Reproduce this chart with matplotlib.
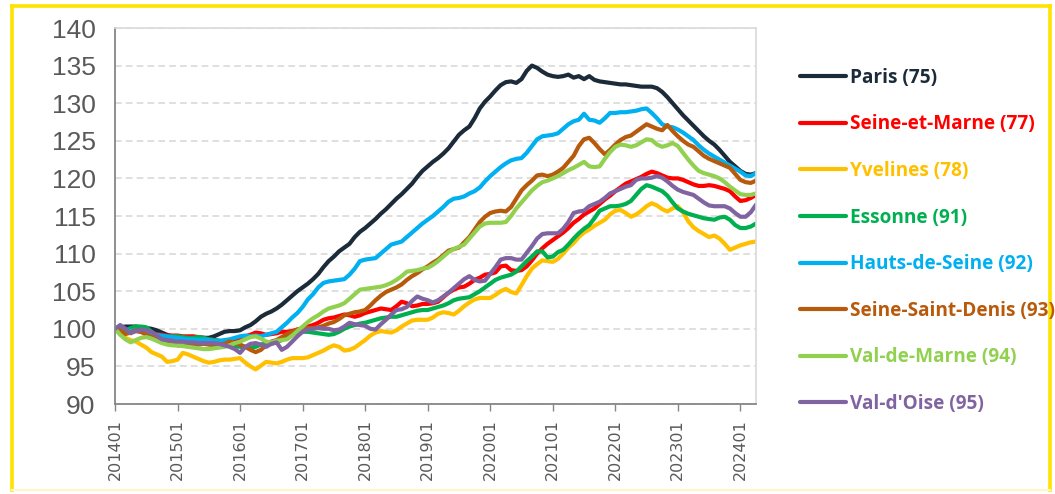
import matplotlib
matplotlib.use("Agg")
import matplotlib.pyplot as plt
from matplotlib.lines import Line2D

# ---------------- data ----------------
years = list(range(2014, 2025))
months = [f"{y}{m:02d}" for y in years for m in range(1, 13)][:124]  # 201401 .. 202404
tick_labels = [f"{y}01" for y in range(2014, 2025)]

names = ["Paris (75)", "Seine-et-Marne (77)", "Yvelines (78)", "Essonne (91)",
         "Hauts-de-Seine (92)", "Seine-Saint-Denis (93)", "Val-de-Marne (94)", "Val-d'Oise (95)"]
colors = ["#1C2B3A", "#FF0000", "#FFC000", "#00B050", "#00B0F0", "#B85A0C", "#92D050", "#8064A2"]

paris = [
    100.0, 100.2, 100.3, 100.3, 100.3, 100.2, 100.1, 100.0, 99.8, 99.5, 99.2, 99.0,
    98.9, 98.8, 98.8, 98.7, 98.8, 98.8, 98.8, 99.0, 99.3, 99.6, 99.7, 99.7,
    99.8, 100.2, 100.5, 101.0, 101.6, 102.0, 102.3, 102.7, 103.2, 103.8, 104.4, 105.0,
    105.5, 106.0, 106.6, 107.3, 108.2, 109.0, 109.6, 110.3, 110.8, 111.3, 112.2, 112.9,
    113.4, 114.0, 114.6, 115.3, 115.9, 116.6, 117.3, 117.9, 118.6, 119.3, 120.2, 121.0,
    121.6, 122.2, 122.7, 123.3, 124.0, 124.9, 125.8, 126.4, 126.9, 128.0, 129.3, 130.2,
    130.9, 131.7, 132.4, 132.8, 132.9, 132.7, 133.2, 134.3, 135.0, 134.7, 134.2, 133.8,
    133.6, 133.5, 133.6, 133.8, 133.4, 133.6, 133.2, 133.6, 133.1, 132.9, 132.8, 132.7,
    132.6, 132.5, 132.5, 132.4, 132.3, 132.2, 132.2, 132.2, 132.0, 131.5, 130.8, 130.0,
    129.2, 128.4, 127.7, 127.0, 126.3, 125.6, 125.0, 124.5, 123.8, 123.0, 122.2, 121.6,
    121.0, 120.6, 120.5, 120.7,
]
seine_et_marne = [
    100.0, 100.2, 99.9, 99.8, 99.7, 99.6, 99.5, 99.4, 99.3, 99.2, 99.1, 99.1,
    99.1, 99.0, 99.0, 99.0, 98.9, 98.8, 98.6, 98.5, 98.4, 98.3, 98.4, 98.6,
    98.8, 99.0, 99.2, 99.5, 99.4, 99.2, 99.3, 99.4, 99.6, 99.6, 99.7, 99.9,
    100.1, 100.3, 100.5, 100.8, 101.2, 101.4, 101.5, 101.7, 101.9, 101.8, 101.6, 101.8,
    102.1, 102.3, 102.5, 102.7, 102.6, 102.5, 103.0, 103.6, 103.4, 103.0, 103.1, 103.3,
    103.3, 103.4, 103.6, 104.2, 104.8, 105.2, 105.5, 105.6, 106.0, 106.5, 106.8, 107.2,
    107.3, 107.5, 108.3, 108.4, 107.8, 107.7, 107.8, 108.3, 109.1, 110.0, 110.7, 111.3,
    111.8, 112.3, 112.8, 113.4, 114.1, 114.6, 115.2, 115.6, 116.0, 116.6, 117.2, 117.7,
    118.3, 118.8, 119.3, 119.6, 119.9, 120.2, 120.6, 120.9, 120.7, 120.4, 120.1, 120.0,
    120.0, 119.8, 119.5, 119.2, 119.0, 119.0, 119.1, 119.0, 118.8, 118.6, 118.3, 117.6,
    117.0, 117.1, 117.4, 117.8,
]
yvelines = [
    100.0, 99.4, 98.8, 98.5, 98.3, 97.9, 97.5, 96.9, 96.6, 96.3, 95.6, 95.7,
    95.9, 96.8, 96.6, 96.3, 96.0, 95.7, 95.5, 95.6, 95.8, 95.9, 95.9, 96.0,
    96.1, 95.5, 95.0, 94.6, 95.1, 95.6, 95.5, 95.4, 95.6, 95.9, 96.1, 96.1,
    96.1, 96.2, 96.5, 96.8, 97.1, 97.5, 97.8, 97.6, 97.1, 97.2, 97.5, 98.0,
    98.5, 99.1, 99.5, 99.7, 99.6, 99.5, 99.8, 100.3, 100.7, 101.1, 101.2, 101.2,
    101.2, 101.5, 102.0, 102.2, 102.1, 101.9, 102.4, 103.0, 103.5, 103.9, 104.1, 104.1,
    104.1, 104.5, 105.0, 105.3, 104.9, 104.7, 105.8, 107.0, 108.0, 108.6, 109.1, 109.0,
    108.9, 109.3, 110.0, 110.8, 111.4, 112.2, 112.8, 113.2, 113.7, 114.1, 114.5, 115.2,
    115.7, 115.8, 115.4, 114.9, 115.2, 115.7, 116.3, 116.7, 116.4, 115.9, 115.6, 116.0,
    116.3, 115.5, 114.3, 113.5, 113.0, 112.6, 112.2, 112.4, 112.0, 111.3, 110.5, 110.8,
    111.1, 111.3, 111.5, 111.6,
]
essonne = [
    100.0, 99.8, 99.8, 100.1, 100.3, 100.3, 100.2, 99.6, 99.1, 98.9, 98.9, 99.0,
    99.0, 98.9, 98.8, 98.8, 98.9, 98.8, 98.6, 98.5, 98.4, 98.2, 97.9, 97.7,
    97.6, 97.6, 97.5, 97.6, 97.9, 98.1, 98.0, 98.2, 98.5, 99.0, 99.3, 99.5,
    99.6, 99.6, 99.5, 99.4, 99.3, 99.2, 99.3, 99.6, 100.0, 100.3, 100.5, 100.7,
    100.8, 101.0, 101.2, 101.4, 101.5, 101.6, 101.6, 101.8, 102.0, 102.2, 102.4, 102.5,
    102.5, 102.7, 102.9, 103.1, 103.4, 103.8, 104.0, 104.1, 104.2, 104.6, 105.0, 105.5,
    106.0, 106.5, 106.8, 107.0, 107.2, 107.6, 108.3, 109.0, 109.6, 110.3, 110.3, 109.5,
    109.6, 110.2, 110.5, 111.2, 112.0, 112.7, 113.3, 113.8, 114.7, 115.7, 116.0, 116.3,
    116.3, 116.4, 116.6, 117.0, 117.8, 118.6, 119.1, 118.9, 118.6, 118.3, 117.7, 116.8,
    116.0, 115.6, 115.3, 115.1, 114.9, 114.7, 114.6, 114.5, 114.8, 114.9, 114.5, 113.8,
    113.4, 113.4, 113.6, 114.0,
]
hauts_de_seine = [
    100.0, 100.3, 99.8, 99.7, 99.8, 99.6, 99.4, 99.3, 99.2, 99.1, 99.0, 98.9,
    98.8, 98.7, 98.6, 98.6, 98.5, 98.6, 98.5, 98.4, 98.4, 98.5, 98.6, 98.8,
    99.0, 99.1, 99.0, 99.1, 99.0, 99.2, 99.4, 99.6, 100.2, 100.8, 101.5, 102.1,
    102.9, 103.9, 104.6, 105.5, 106.1, 106.3, 106.4, 106.5, 106.6, 107.2, 108.0, 109.0,
    109.2, 109.3, 109.4, 110.0, 110.6, 111.2, 111.4, 111.6, 112.2, 112.8, 113.4, 114.0,
    114.5, 115.0, 115.6, 116.2, 116.9, 117.3, 117.4, 117.6, 118.0, 118.3, 118.8, 119.6,
    120.3, 120.9, 121.5, 122.0, 122.4, 122.6, 122.7, 123.4, 124.3, 125.2, 125.6, 125.7,
    125.8, 126.0, 126.6, 127.2, 127.6, 127.8, 128.6, 127.8, 127.7, 127.4, 128.0, 128.7,
    128.7, 128.8, 128.8, 128.9, 129.0, 129.2, 129.3, 128.7, 128.0, 127.2, 126.9, 126.8,
    126.5, 126.1, 125.6, 125.1, 124.4, 123.8, 123.3, 122.9, 122.5, 122.1, 121.7, 121.3,
    120.9, 120.4, 120.3, 120.7,
]
seine_saint_denis = [
    100.0, 99.8, 99.3, 99.5, 99.8, 99.6, 99.2, 98.9, 98.6, 98.3, 98.1, 97.9,
    97.8, 97.8, 97.7, 97.8, 97.9, 98.0, 97.9, 97.8, 97.9, 98.0, 98.3, 98.1,
    97.9, 97.6, 97.2, 96.9, 97.2, 97.8, 98.3, 98.5, 98.9, 99.3, 99.6, 99.9,
    100.0, 100.1, 100.1, 100.2, 100.4, 100.7, 100.9, 101.3, 101.8, 102.0, 102.2, 102.3,
    102.5, 103.1, 103.8, 104.4, 104.9, 105.2, 105.5, 105.9, 106.5, 107.0, 107.4, 107.9,
    108.3, 108.8, 109.2, 109.8, 110.4, 110.6, 110.8, 111.5, 112.2, 113.2, 114.2, 114.9,
    115.4, 115.6, 115.7, 115.6, 116.2, 117.3, 118.4, 119.1, 119.7, 120.4, 120.5, 120.3,
    120.5, 120.9, 121.4, 122.2, 123.0, 124.3, 125.2, 125.4, 124.7, 123.9, 123.2, 123.8,
    124.5, 125.1, 125.5, 125.7, 126.2, 126.7, 127.2, 126.9, 126.6, 126.4, 127.1, 126.3,
    125.6, 125.0, 124.5, 124.2, 123.6, 123.0, 122.6, 122.3, 122.0, 121.7, 121.4, 120.6,
    119.8, 119.5, 119.4, 119.7,
]
val_de_marne = [
    100.0, 99.2, 98.6, 98.2, 98.5, 98.8, 98.9, 98.7, 98.4, 98.1, 97.9, 97.8,
    97.8, 97.7, 97.6, 97.5, 97.4, 97.3, 97.3, 97.4, 97.5, 97.6, 97.8, 98.1,
    98.3, 98.6, 98.9, 99.0, 98.7, 98.3, 98.2, 98.4, 98.5, 98.6, 99.1, 99.7,
    100.3, 100.9, 101.4, 101.8, 102.3, 102.7, 102.9, 103.1, 103.4, 104.0, 104.6, 105.2,
    105.3, 105.4, 105.5, 105.6, 105.8, 106.1, 106.5, 107.0, 107.6, 107.7, 107.8, 108.0,
    108.1, 108.5, 109.0, 109.6, 110.2, 110.6, 110.9, 111.2, 112.0, 112.8, 113.6, 114.0,
    114.1, 114.1, 114.1, 114.2, 115.0, 116.0, 116.8, 117.6, 118.4, 119.0, 119.5, 119.7,
    120.0, 120.3, 120.7, 121.1, 121.4, 121.8, 122.2, 121.6, 121.5, 121.6, 122.6, 123.5,
    124.2, 124.5, 124.4, 124.2, 124.4, 124.8, 125.2, 125.1, 124.5, 124.2, 124.4, 124.7,
    124.3, 123.4, 122.5, 121.7, 121.0, 120.7, 120.5, 120.3, 120.0, 119.5, 118.9, 118.4,
    117.9, 117.8, 117.8, 118.0,
]
val_d_oise = [
    100.0, 100.5, 100.0, 99.4, 99.7, 99.9, 99.8, 99.6, 99.1, 98.6, 98.5, 98.4,
    98.3, 98.3, 98.2, 98.2, 98.1, 98.1, 98.1, 98.1, 98.0, 97.8, 97.6, 97.3,
    96.8, 97.6, 98.0, 98.1, 97.9, 97.6, 98.0, 98.2, 97.2, 97.6, 98.3, 99.0,
    99.6, 99.9, 100.0, 100.1, 100.0, 100.0, 99.8, 99.9, 100.3, 100.8, 100.6, 100.5,
    100.4, 100.0, 99.9, 100.6, 101.2, 101.9, 102.5, 102.6, 102.9, 103.7, 104.3, 104.0,
    103.8, 103.5, 103.8, 104.3, 104.8, 105.4, 106.0, 106.6, 107.0, 106.5, 106.3, 106.4,
    107.3, 108.2, 109.2, 109.4, 109.4, 109.2, 109.2, 110.1, 111.0, 112.0, 112.6, 112.7,
    112.7, 112.7, 113.3, 114.2, 115.4, 115.6, 115.7, 116.3, 116.6, 116.9, 117.4, 118.0,
    118.3, 118.6, 118.9, 119.1, 119.8, 120.0, 120.0, 120.1, 120.3, 120.1, 119.6, 119.0,
    118.5, 118.2, 118.0, 117.8, 117.3, 116.8, 116.4, 116.3, 116.3, 116.3, 116.0, 115.4,
    114.9, 114.9, 115.5, 116.5,
]

series = [paris, seine_et_marne, yvelines, essonne, hauts_de_seine,
          seine_saint_denis, val_de_marne, val_d_oise]

# ---------------- figure ----------------
W, H = 1055, 494
fig = plt.figure(figsize=(W / 100, H / 100), dpi=100)
fig.patch.set_facecolor("white")

# yellow frame around the figure
fig.add_artist(Line2D([12 / W, 12 / W], [1 - 6 / H, 1 - 490 / H], color="#FFE200", lw=2.6))
fig.add_artist(Line2D([12 / W, 1050 / W], [1 - 6 / H, 1 - 6 / H], color="#FFE200", lw=2.6))
fig.add_artist(Line2D([1050 / W, 1050 / W], [1 - 6 / H, 1 - 490 / H], color="#FFE200", lw=2.6))
fig.add_artist(Line2D([12 / W, 1050 / W], [1 - 490 / H, 1 - 490 / H], color="#FFF6C8", lw=1.5))

left, right, top, bottom = 115, 756, 28, 404
ax = fig.add_axes([left / W, 1 - bottom / H, (right - left) / W, (bottom - top) / H])

x = list(range(len(months)))
for vals, name, col in zip(series, names, colors):
    ax.plot(x, vals, color=col, lw=3.0, label=name, solid_capstyle="round",
            solid_joinstyle="round")

ax.set_xlim(0, len(months) - 1)
ax.set_ylim(90, 140)
ax.set_yticks(range(90, 141, 5))
ax.set_xticks([months.index(t) for t in tick_labels])
ax.set_xticklabels(tick_labels, rotation=90, fontsize=11.5, color="#595959",
                   family="DejaVu Sans")
ax.tick_params(axis="x", length=5, width=1, color="#868686", pad=6)
ax.tick_params(axis="y", length=0, pad=14, labelcolor="#595959")
for lab in ax.get_yticklabels():
    lab.set_fontfamily(["Liberation Sans Narrow", "Liberation Sans"])
    lab.set_fontsize(19)

ax.grid(axis="y", color="#D9D9D9", linestyle=(0, (4, 2.5)), lw=1.2)
ax.set_axisbelow(True)
for s in ["left", "bottom"]:
    ax.spines[s].set_color("#868686")
    ax.spines[s].set_linewidth(1.3)
for s in ["top", "right"]:
    ax.spines[s].set_color("#D9D9D9")
    ax.spines[s].set_linewidth(1.2)

leg = fig.legend(loc="upper left", bbox_to_anchor=(792 / W, 1 - 60 / H),
                 frameon=False, handlelength=2.45, handletextpad=0.2,
                 labelspacing=1.4, borderaxespad=0,
                 prop={"family": "Open Sans", "weight": "bold", "size": 13.7})
for txt, col in zip(leg.get_texts(), colors):
    txt.set_color(col)

fig.savefig("out.png", dpi=100, facecolor="white")
